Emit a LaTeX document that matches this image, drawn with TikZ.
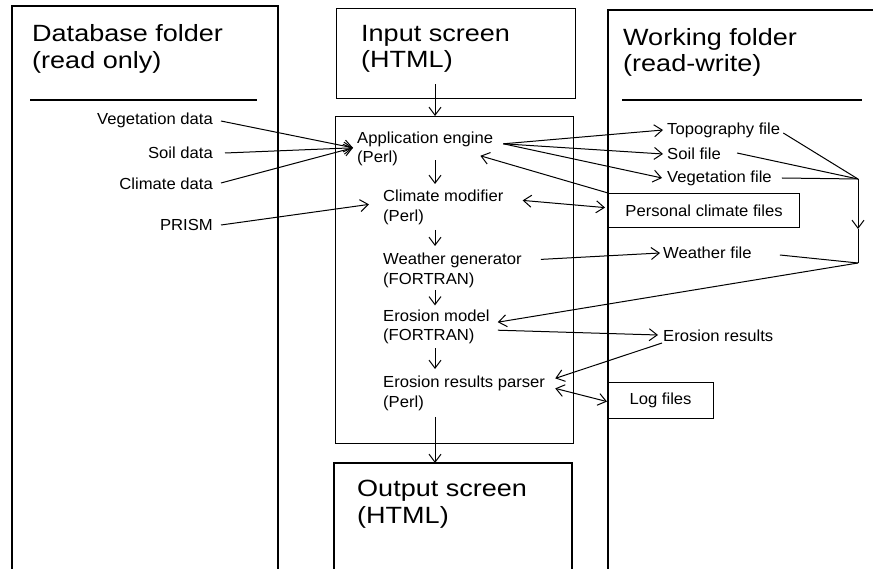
\documentclass[tikz,border=0pt]{standalone}
\usepackage{fontspec}
\setmainfont{Liberation Sans}
\newfontfamily\titlef[FakeStretch=1.15]{Liberation Sans}
\newfontfamily\smallf[FakeStretch=1.04]{Liberation Sans}
\usetikzlibrary{arrows.meta,calc}
\begin{document}
\begin{tikzpicture}[x=1pt,y=-1pt,
  frame/.style={line width=1.2pt},
  box/.style={draw, line width=1.2pt, inner sep=0pt, anchor=north west},
  conn/.style={line width=1pt},
  arr/.style={conn, -{Straight Barb[length=8pt,width=12pt]}},
  barr/.style={conn, {Straight Barb[length=8pt,width=12pt]}-{Straight Barb[length=8pt,width=12pt]}},
  ttl/.style={font=\titlef\fontsize{23.5}{26.5}\selectfont, align=left, inner sep=0pt, anchor=north west},
  sm/.style={font=\smallf\fontsize{16}{19.5}\selectfont, inner sep=0pt},
  mod/.style={sm, align=left, anchor=north west},
]
\useasboundingbox (0,0) rectangle (873,569);

% folders and screens
\draw[frame] (12,575) -- (12,6) -- (278,6) -- (278,575);
\draw[frame] (608,575) |- (880,10);
\node[box, minimum width=239pt, minimum height=90pt] (inbox) at (336,8) {};
\node[box, minimum width=238pt, minimum height=327pt] (engbox) at (335,116) {};
\draw[frame] (334,575) |- (572,463) -- (572,575);
\coordinate (outtop) at (434,463);

\draw[frame] (30,100) -- (257,100);
\draw[frame] (622,100) -- (862,100);

% titles
\node[ttl] (dbt) at (32,24.6) {Database folder\\(read only)};
\node[ttl] (wft) at (623,28) {Working folder\\(read-write)};
\node[ttl] (inp) at (361,25) {Input screen\\(HTML)};
\node[ttl] (outp) at (357,480) {Output screen\\(HTML)};

% file boxes
\node[box, sm, minimum width=191pt, minimum height=34pt] (pcf) at (608,193) {Personal climate files};
\node[box, sm, minimum width=106pt, minimum height=36pt] (logf) at (607,382) {Log files};

% database labels
\node[sm, anchor=east] (vegd) at (213,120) {Vegetation data};
\node[sm, anchor=east] (soild) at (213,153) {Soil data};
\node[sm, anchor=east] (climd) at (213,184) {Climate data};
\node[sm, anchor=east] (prism) at (213,225) {PRISM};

% modules
\node[mod] (eng) at (357,131.4) {Application engine\\(Perl)};
\node[mod] (cm) at (383,190) {Climate modifier\\(Perl)};
\node[mod] (wg) at (383,253) {Weather generator\\(FORTRAN)};
\node[mod] (em) at (383,309.4) {Erosion model\\(FORTRAN)};
\node[mod] (erp) at (383,376) {Erosion results parser\\(Perl)};

% working files
\node[sm, anchor=west] (topo) at (667,130) {Topography file};
\node[sm, anchor=west] (soilf) at (667,154) {Soil file};
\node[sm, anchor=west] (vegf) at (667,178) {Vegetation file};
\node[sm, anchor=west] (wthr) at (663,253) {Weather file};
\node[sm, anchor=west] (eres) at (663,336) {Erosion results};

\coordinate (ax) at (435,0);
\coordinate (J1) at (858,179);
\coordinate (Jm) at (858,229);
\coordinate (J2) at (858,263);

% database inputs
\draw[arr] ([shift={(8,1)}]vegd.east) -- ([shift={(-4,-1)}]eng.west);
\draw[arr] ([shift={(12,0)}]soild.east) -- ([shift={(-4,-1)}]eng.west);
\draw[arr] ([shift={(8,-1)}]climd.east) -- ([shift={(-4,-1)}]eng.west);
\draw[arr] ([shift={(8,0)}]prism.east) -- ([shift={(-14,-3)}]cm.west);

% main chain
\draw[arr] ($(inbox.south -| ax)+(0,-15)$) -- (engbox.north -| ax);
\draw[arr] ($(eng.south -| ax)+(0,-6)$) -- ($(cm.north -| ax)+(0,-6)$);
\draw[arr] ($(cm.south -| ax)+(0,5)$) -- ($(wg.north -| ax)+(0,-7)$);
\draw[arr] ($(wg.south -| ax)+(0,2)$) -- ($(em.north -| ax)+(0,-4)$);
\draw[arr] ($(em.south -| ax)+(0,4)$) -- ($(erp.north -| ax)+(0,-7)$);
\draw[arr] ($(erp.south -| ax)+(0,6)$) -- (outtop -| ax);

% engine to working folder
\draw[arr] ([shift={(10,-5)}]eng.east) -- ([shift={(-4,0)}]topo.west);
\draw[arr] ([shift={(10,-5)}]eng.east) -- ([shift={(-4,0)}]soilf.west);
\draw[arr] ([shift={(10,-5)}]eng.east) -- ([shift={(-5,0)}]vegf.west);
\draw[arr] (pcf.north west) -- ([shift={(-13,7)}]eng.east);
\draw[barr] ([shift={(19,-7)}]cm.east) -- ([shift={(-3,-3)}]pcf.west);
\draw[arr] ([shift={(19,-11)}]wg.east) -- ([shift={(-3,0)}]wthr.west);

% files into erosion model
\draw[conn] ([shift={(3,3)}]topo.east) -- (J1);
\draw[conn] ([shift={(16,-1)}]soilf.east) -- (J1);
\draw[conn] ([shift={(10,0)}]vegf.east) -- (J1);
\draw[arr] (J1) -- (Jm);
\draw[conn] (Jm) -- (J2);
\draw[conn] ([shift={(28,2)}]wthr.east) -- (J2);
\draw[arr] (J2) -- ([shift={(8,-4.6)}]em.east);

% results
\draw[arr] ([shift={(8,3.4)}]em.east) -- ([shift={(-5,-1)}]eres.west);
\draw[arr] ([shift={(-1,7)}]eres.west) -- ([shift={(10,-15)}]erp.east);
\draw[barr] ([shift={(10,-5)}]erp.east) -- ([shift={(0,1)}]logf.west);
\end{tikzpicture}
\end{document}
